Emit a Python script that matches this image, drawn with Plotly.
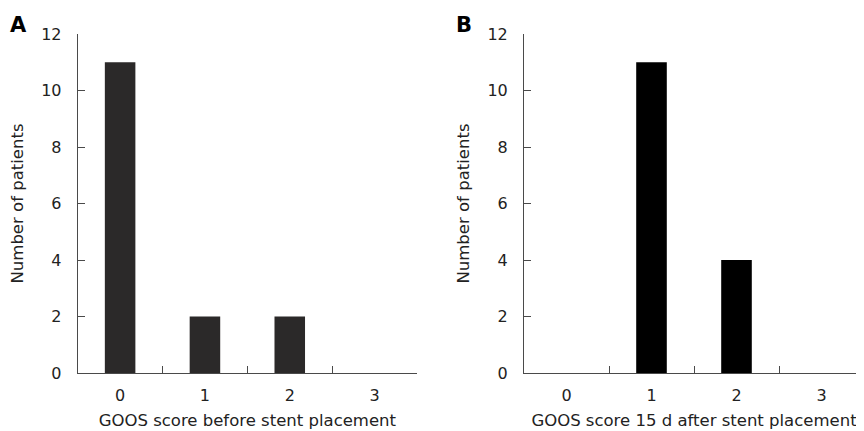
import plotly.graph_objects as go

categories = ["0", "1", "2", "3"]
before_counts = [11, 2, 2, 0]
after_counts = [0, 11, 4, 0]
y_ticks = [0, 2, 4, 6, 8, 10, 12]

font_family = "DejaVu Sans"
axis_color = "#4a4a4a"
text_color = "#222222"

# The page body has an 8px margin, so the figure is sized to fill the rest of the window
W, H = 856, 423
T, B = 26, 58

fig = go.Figure()
fig.add_trace(go.Bar(x=categories, y=before_counts, width=0.36,
                     marker=dict(color="#2b2929", line=dict(width=0)),
                     xaxis="x", yaxis="y", showlegend=False))
fig.add_trace(go.Bar(x=categories, y=after_counts, width=0.36,
                     marker=dict(color="#000000", line=dict(width=0)),
                     xaxis="x2", yaxis="y2", showlegend=False))

xcommon = dict(type="category", tickson="boundaries", ticks="inside", ticklen=7,
               tickcolor=axis_color, tickwidth=1, showline=True, linecolor=axis_color,
               linewidth=1, showgrid=False, zeroline=False, range=[-0.5, 3.5],
               tickfont=dict(family=font_family, size=16, color=text_color),
               title_font=dict(family=font_family, size=16.5, color=text_color),
               ticklabelstandoff=8, title_standoff=10, automargin=False, fixedrange=True)
ycommon = dict(range=[0, 12], tickvals=y_ticks, ticks="inside", ticklen=7,
               tickcolor=axis_color, tickwidth=1, showline=True, linecolor=axis_color,
               linewidth=1, showgrid=False, zeroline=False,
               tickfont=dict(family=font_family, size=16, color=text_color),
               title_font=dict(family=font_family, size=16.5, color=text_color),
               ticklabelstandoff=12, title_standoff=13, automargin=False, fixedrange=True)

fig.update_layout(
    width=W, height=H,
    margin=dict(l=0, r=0, t=T, b=B),
    paper_bgcolor="white", plot_bgcolor="white",
    xaxis=dict(domain=[69.7 / W, 409 / W], anchor="y",
               title=dict(text="GOOS score before stent placement"), **xcommon),
    yaxis=dict(domain=[0, 1], anchor="x",
               title=dict(text="Number of patients"), **ycommon),
    xaxis2=dict(domain=[516 / W, 1.0], anchor="y2",
                title=dict(text="GOOS score 15 d after stent placement"), **xcommon),
    yaxis2=dict(domain=[0, 1], anchor="x2",
                title=dict(text="Number of patients"), **ycommon),
)

plot_h = H - T - B
for letter, px in [("A", 0), ("B", 446)]:
    fig.add_annotation(text=f"<b>{letter}</b>", xref="paper", yref="paper",
                       x=px / W, y=(plot_h + T - 17.5) / plot_h, xanchor="left", yanchor="middle",
                       showarrow=False,
                       font=dict(family=font_family, size=21, color="#000000"))

fig.write_html("out.html")
